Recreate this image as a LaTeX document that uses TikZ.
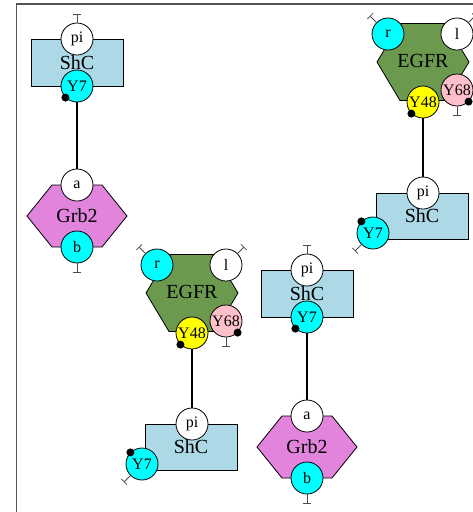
\documentclass[tikz,border=0pt]{standalone}
\usepackage{fontspec}
\setmainfont{Liberation Serif}
\usetikzlibrary{arrows.meta}
\definecolor{shcblue}{HTML}{ADD8E6}
\definecolor{grbpink}{HTML}{E283DC}
\definecolor{egfrgreen}{HTML}{6B9A4F}
\definecolor{sitepink}{HTML}{FFC0CB}
\definecolor{sitecyan}{HTML}{00FFFF}
\definecolor{siteyellow}{HTML}{FFFF00}
\definecolor{framegray}{HTML}{555555}
\tikzset{
  site/.style={circle, draw, line width=0.8pt, minimum size=32pt, inner sep=0pt, font=\fontsize{16}{16}\selectfont},
  mol/.style={font=\fontsize{20}{20}\selectfont},
  shcbox/.style={draw, line width=0.8pt, fill=shcblue, minimum width=92pt, minimum height=47pt, inner sep=0pt, mol},
  hexagon/.style={draw, line width=0.8pt},
  conn/.style={line width=1.8pt},
  tbar/.style={line width=0.8pt, draw=black!70, -{Bar[width=8pt]}},
  pdot/.style={fill=black},
}
\newcommand\ShcGrbGroup{%
  \node[shcbox] (shc) at (77,62.5) {ShC};
  \node[site, fill=white] (pi) at (77,39) {pi};
  \node[site, fill=sitecyan] (y7) at (77,86) {Y7};
  \fill[pdot] (y7.225) circle (4pt);
  \draw[tbar] (pi.north) -- ++(0,-9);
  \draw[hexagon, fill=grbpink] (27,216) -- (52,185) -- (102,185) -- (127,216) -- (102,247) -- (52,247) -- cycle;
  \node[mol] (grb) at (77,216) {Grb2};
  \node[site, fill=white] (a) at (77,185) {a};
  \node[site, fill=sitecyan] (b) at (77,247) {b};
  \draw[tbar] (b.south) -- ++(0,9);
  \draw[conn] (y7) -- (a);
}
\newcommand\EgfrShcGroup{%
  \draw[hexagon, fill=egfrgreen] (377,62) -- (400,23.5) -- (446,23.5) -- (469,62) -- (446,100.5) -- (400,100.5) -- cycle;
  \node[mol] (egfr) at (423,61) {EGFR};
  \node[site, fill=sitecyan] (r) at (388,34) {r};
  \node[site, fill=white] (l) at (457,34) {l};
  \node[site, fill=siteyellow] (y48) at (423,102) {Y48};
  \node[site, fill=sitepink] (y68) at (457,90) {Y68};
  \fill[pdot] (y48.225) circle (4pt);
  \fill[pdot] (y68.-45) circle (4pt);
  \draw[tbar] (r.135) -- ++(-6.5,-6.5);
  \draw[tbar] (l.45) -- ++(6.5,-6.5);
  \draw[tbar] (y68.south) -- ++(0,9);
  \node[shcbox, minimum height=46pt] (shc) at (422,216) {ShC};
  \node[site, fill=white] (pi) at (423,193) {pi};
  \node[site, fill=sitecyan] (y7) at (373,233) {Y7};
  \fill[pdot] (y7.135) circle (4pt);
  \draw[tbar] (y7.225) -- ++(-6.5,6.5);
  \draw[conn] (y48) -- (pi);
}
\begin{document}
\begin{tikzpicture}[x=1pt, y=-1pt]
  \useasboundingbox (0,0) rectangle (472,512);
  \fill[white] (0,0) rectangle (472,512);
  \draw[framegray, line width=1.3pt] (16.5,520) -- (16.5,4) -- (480,4);
  \begin{scope}[name prefix=g1-]
    \ShcGrbGroup
  \end{scope}
  \begin{scope}[shift={(230,231)}, name prefix=g2-]
    \ShcGrbGroup
  \end{scope}
  \begin{scope}[name prefix=g3-]
    \EgfrShcGroup
  \end{scope}
  \begin{scope}[shift={(-231,231)}, name prefix=g4-]
    \EgfrShcGroup
  \end{scope}
\end{tikzpicture}
\end{document}
